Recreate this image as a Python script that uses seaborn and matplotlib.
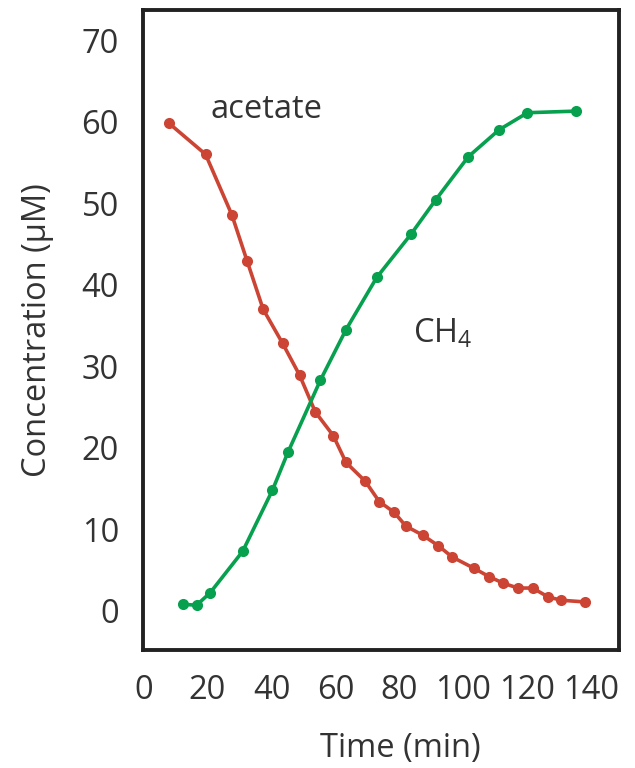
import matplotlib
matplotlib.use("Agg")
import matplotlib.pyplot as plt
import seaborn as sns
import pandas as pd

# Acetate consumption and methane production over time
acetate_time = [8.0, 19.4, 27.6, 32.4, 37.4, 43.5, 48.8, 53.7, 59.3, 63.3,
                69.3, 73.7, 78.3, 82.0, 87.2, 92.1, 96.5, 103.4, 108.0,
                112.4, 117.0, 121.6, 126.5, 130.6, 137.9]
acetate_conc = [59.8, 56.0, 48.6, 42.9, 37.0, 32.8, 28.9, 24.4, 21.5, 18.2,
                15.9, 13.4, 12.1, 10.4, 9.3, 8.0, 6.6, 5.2, 4.2,
                3.4, 2.8, 2.8, 1.7, 1.3, 1.1]

ch4_time = [12.2, 16.6, 20.8, 31.0, 40.3, 45.2, 55.3, 63.3, 72.9, 83.6,
            91.3, 101.5, 111.1, 120.0, 135.3]
ch4_conc = [0.8, 0.7, 2.2, 7.3, 14.8, 19.5, 28.3, 34.5, 40.9, 46.2,
            50.4, 55.7, 59.0, 61.1, 61.3]

x_ticks = [0, 20, 40, 60, 80, 100, 120, 140]
y_ticks = [0, 10, 20, 30, 40, 50, 60, 70]

series_colors = {"acetate": "#CC4433", "CH4": "#07A04E"}
text_color = "#333333"
font_size = 23.5

df = pd.concat([
    pd.DataFrame({"time": acetate_time, "conc": acetate_conc, "species": "acetate"}),
    pd.DataFrame({"time": ch4_time, "conc": ch4_conc, "species": "CH4"}),
], ignore_index=True)

sns.set_style("white")
plt.rcParams["font.family"] = ["Open Sans", "DejaVu Sans"]
plt.rcParams["mathtext.fontset"] = "custom"
plt.rcParams["mathtext.rm"] = "Open Sans"

fig = plt.figure(figsize=(6.35, 7.68), dpi=100)
ax = fig.add_axes([142.5 / 635, 1 - 650 / 768, (619 - 142.5) / 635, (650 - 10) / 768])

sns.lineplot(data=df, x="time", y="conc", hue="species", palette=series_colors,
             marker="o", markersize=8, markeredgewidth=0, linewidth=2.6,
             legend=False, ax=ax)

ax.set_xlim(-0.3, 148.6)
ax.set_ylim(-4.8, 73.7)
ax.set_xticks(x_ticks)
ax.set_yticks(y_ticks)
ax.tick_params(axis="both", length=0, labelsize=font_size, labelcolor=text_color)
ax.tick_params(axis="x", pad=17)
ax.tick_params(axis="y", pad=17)

for spine in ax.spines.values():
    spine.set_visible(True)
    spine.set_color("#222222")
    spine.set_linewidth(2.8)

ax.set_xlabel("Time (min)", fontsize=font_size, color=text_color)
ax.set_ylabel("Concentration (\u00b5M)", fontsize=font_size, color=text_color)
ax.xaxis.set_label_coords((400 - 142.5) / 476.5, -(748 - 650) / 640)
ax.yaxis.set_label_coords(-(142.5 - 38) / 476.5, 0.5)
ax.xaxis.label.set_va("center")
ax.yaxis.label.set_va("center")

ax.text(20.8, 60.5, "acetate", fontsize=font_size, color=text_color,
        ha="left", va="baseline")
ax.text(84.2, 32.9, r"CH$_{\mathregular{4}}$", fontsize=font_size, color=text_color,
        ha="left", va="baseline")

fig.savefig("out.png", dpi=100, facecolor="white")
